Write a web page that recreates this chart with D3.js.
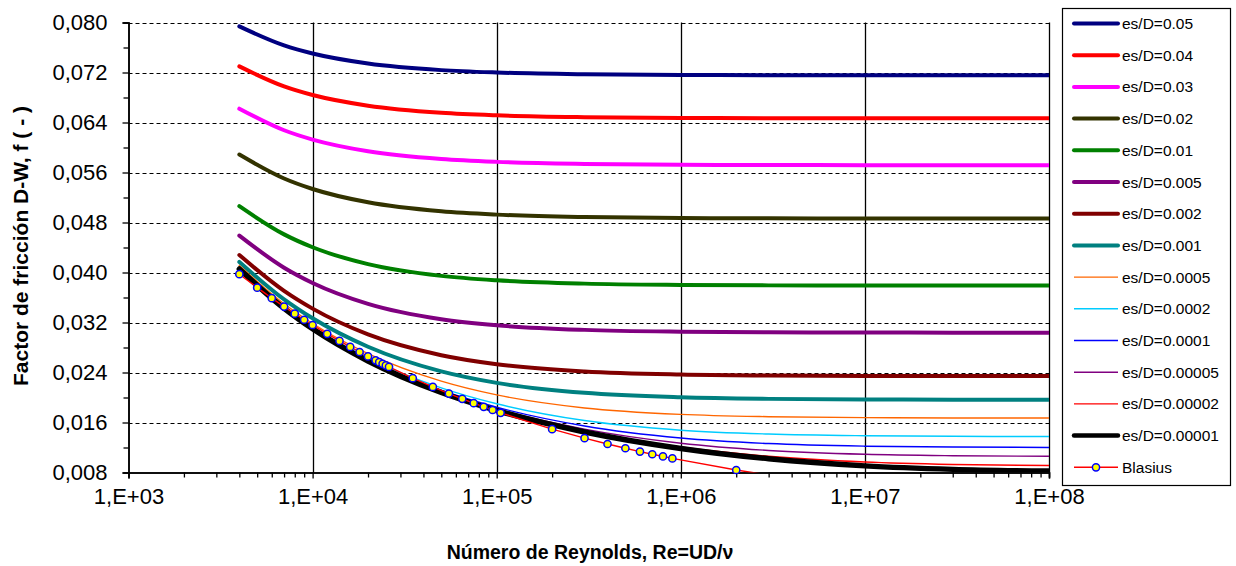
<!DOCTYPE html>
<html>
<head>
<meta charset="utf-8">
<script src="https://cdn.jsdelivr.net/npm/d3@7"></script>
<style>
    body { margin: 0; background: #fff; }
    svg { display: block; font-family: "Liberation Sans", Arial, sans-serif; }
</style>
</head>
<body>
<svg id="chart" width="1236" height="566"></svg>
<script>

// Reynolds numbers where the curves were read
var reynolds = [4000, 7000, 1e4, 2e4, 5e4, 1e5, 3e5, 1e6, 3e6, 1e7, 3e7, 1e8];

// friction factor, one array per relative roughness
var fRough005 = [0.07938, 0.07634, 0.07504, 0.07344, 0.07238, 0.07200, 0.07172, 0.07161, 0.07157, 0.07156, 0.07155, 0.07155];
var fRough004 = [0.07298, 0.06978, 0.06840, 0.06669, 0.06556, 0.06515, 0.06485, 0.06473, 0.06469, 0.06468, 0.06468, 0.06467];
var fRough003 = [0.06621, 0.06276, 0.06127, 0.05940, 0.05816, 0.05770, 0.05737, 0.05724, 0.05720, 0.05718, 0.05718, 0.05717];
var fRough002 = [0.05887, 0.05504, 0.05336, 0.05123, 0.04979, 0.04926, 0.04887, 0.04872, 0.04867, 0.04865, 0.04864, 0.04864];
var fRough001 = [0.05061, 0.04610, 0.04404, 0.04134, 0.03946, 0.03875, 0.03822, 0.03801, 0.03794, 0.03792, 0.03791, 0.03791];
var fRough0005 = [0.04591, 0.04077, 0.03833, 0.03499, 0.03253, 0.03156, 0.03082, 0.03052, 0.03043, 0.03039, 0.03038, 0.03037];
var fRough0002 = [0.04280, 0.03706, 0.03422, 0.03010, 0.02677, 0.02533, 0.02417, 0.02368, 0.02352, 0.02345, 0.02343, 0.02343];
var fRough0001 = [0.04169, 0.03570, 0.03267, 0.02812, 0.02418, 0.02234, 0.02075, 0.02003, 0.01978, 0.01969, 0.01965, 0.01964];
var fRough00005 = [0.04113, 0.03499, 0.03184, 0.02702, 0.02262, 0.02042, 0.01833, 0.01730, 0.01693, 0.01678, 0.01673, 0.01671];
var fRough00002 = [0.04078, 0.03455, 0.03132, 0.02631, 0.02155, 0.01900, 0.01631, 0.01477, 0.01415, 0.01388, 0.01379, 0.01375];
var fRough00001 = [0.04067, 0.03440, 0.03115, 0.02606, 0.02117, 0.01845, 0.01544, 0.01351, 0.01263, 0.01221, 0.01207, 0.01201];
var fRough000005 = [0.04061, 0.03433, 0.03106, 0.02594, 0.02097, 0.01816, 0.01494, 0.01269, 0.01153, 0.01092, 0.01069, 0.01059];
var fRough000002 = [0.04057, 0.03428, 0.03101, 0.02586, 0.02084, 0.01799, 0.01461, 0.01208, 0.01060, 0.00968, 0.00929, 0.00911];
var fRough000001 = [0.04056, 0.03427, 0.03099, 0.02584, 0.02080, 0.01792, 0.01449, 0.01185, 0.01020, 0.00906, 0.00850, 0.00822];

// Blasius points
var blasiusRe = [4000, 5000, 6000, 7000, 8000, 9000, 10000, 12000, 14000, 16000, 18000, 20000, 22000, 23000, 24000,
    25000, 26000, 35000, 45000, 55000, 65000, 75000, 85000, 95000, 105000, 200000, 300000, 400000, 500000,
    600000, 700000, 800000, 900000, 2000000, 3000000];
var blasiusF = [0.03973, 0.03758, 0.03590, 0.03455, 0.03341, 0.03244, 0.03160, 0.03019, 0.02905, 0.02810, 0.02728,
    0.02657, 0.02595, 0.02566, 0.02539, 0.02513, 0.02489, 0.02310, 0.02170, 0.02063, 0.01979, 0.01909, 0.01851,
    0.01800, 0.01755, 0.01494, 0.01350, 0.01256, 0.01188, 0.01135, 0.01092, 0.01057, 0.01026, 0.00840, 0.00759];

var seriesLabels = ["es/D=0.05", "es/D=0.04", "es/D=0.03", "es/D=0.02", "es/D=0.01", "es/D=0.005", "es/D=0.002",
    "es/D=0.001", "es/D=0.0005", "es/D=0.0002", "es/D=0.0001", "es/D=0.00005", "es/D=0.00002", "es/D=0.00001"];
var seriesValues = [fRough005, fRough004, fRough003, fRough002, fRough001, fRough0005, fRough0002,
    fRough0001, fRough00005, fRough00002, fRough00001, fRough000005, fRough000002, fRough000001];

var yTicks = [0.008, 0.016, 0.024, 0.032, 0.040, 0.048, 0.056, 0.064, 0.072, 0.080];
var yMinorTicks = [0.012, 0.020, 0.028, 0.036, 0.044, 0.052, 0.060, 0.068, 0.076];
var xTicks = [1e3, 1e4, 1e5, 1e6, 1e7, 1e8];

// styles
var colors = ["#000080", "#ff0000", "#ff00ff", "#333300", "#008000", "#800080", "#800000",
    "#008080", "#ff6600", "#00ccff", "#0000ff", "#800080", "#ff0000", "#000000"];
var widths = [4, 4, 4, 4, 4, 4, 4, 4, 1.4, 1.4, 1.4, 1.4, 1.4, 5.5];

function init() {
    var svg = d3.select("#chart");

    var left = 128.5, right = 1049, top = 22.5, bottom = 472.5;

    var x = d3.scaleLog().domain([1e3, 1e8]).range([left, right]);
    var y = d3.scaleLinear().domain([0.008, 0.080]).range([bottom, top]);

    svg.append("rect").attr("width", 1236).attr("height", 566).attr("fill", "#fff");

    svg.append("defs").append("clipPath").attr("id", "plotClip")
        .append("rect")
        .attr("x", left).attr("y", top)
        .attr("width", right - left).attr("height", bottom - top);

    //Horizontal dashed gridlines
    svg.append("g").selectAll("line")
        .data(yTicks.slice(1))
        .enter()
        .append("line")
        .attr("x1", left)
        .attr("x2", right)
        .attr("y1", function (d) { return Math.round(y(d)) + 0.5; })
        .attr("y2", function (d) { return Math.round(y(d)) + 0.5; })
        .attr("stroke", "#000")
        .attr("stroke-width", 1)
        .attr("stroke-dasharray", "4,3");

    //Vertical solid gridlines
    svg.append("g").selectAll("line")
        .data(xTicks.slice(1))
        .enter()
        .append("line")
        .attr("x1", function (d) { return Math.round(x(d)) + 0.5; })
        .attr("x2", function (d) { return Math.round(x(d)) + 0.5; })
        .attr("y1", top)
        .attr("y2", bottom)
        .attr("stroke", "#000")
        .attr("stroke-width", 1.3);

    // minor x ticks 2..9 in every decade
    var xMinor = [];
    xTicks.slice(0, -1).forEach(function (d) {
        for (var k = 2; k < 10; k++) xMinor.push(d * k);
    });

    var fmtX = function (d) { return "1,E+0" + Math.round(Math.log10(d)); };
    var fmtY = function (d) { return d3.format(".3f")(d).replace(".", ","); };

    svg.append("g")
        .attr("transform", "translate(0," + bottom + ")")
        .call(d3.axisBottom(x).tickValues(xTicks).tickFormat(fmtX).tickSize(6).tickPadding(10));
    svg.append("g")
        .attr("transform", "translate(0," + bottom + ")")
        .call(d3.axisBottom(x).tickValues(xMinor).tickFormat("").tickSize(5));

    svg.append("g")
        .attr("transform", "translate(" + left + ",0)")
        .call(d3.axisLeft(y).tickValues(yTicks).tickFormat(fmtY).tickSize(6).tickPadding(15));
    svg.append("g")
        .attr("transform", "translate(" + left + ",0)")
        .call(d3.axisLeft(y).tickValues(yMinorTicks).tickFormat("").tickSize(5));

    svg.selectAll(".domain").attr("stroke", "#000").attr("stroke-width", 1.5);
    svg.selectAll(".tick line").attr("stroke", "#000").attr("stroke-width", 1.3);
    svg.selectAll(".tick text")
        .attr("font-family", "Liberation Sans, Arial, sans-serif")
        .attr("font-size", 22)
        .attr("fill", "#000");

    //Curves
    var line = d3.line()
        .x(function (d) { return x(d[0]); })
        .y(function (d) { return y(d[1]); })
        .curve(d3.curveMonotoneX);

    var plot = svg.append("g").attr("clip-path", "url(#plotClip)");

    seriesValues.forEach(function (vals, i) {
        var pts = reynolds.map(function (re, j) { return [re, vals[j]]; });
        plot.append("path")
            .attr("d", line(pts))
            .attr("fill", "none")
            .attr("stroke", colors[i])
            .attr("stroke-width", widths[i])
            .attr("stroke-linecap", "round");
    });

    var blasiusPts = blasiusRe.map(function (re, j) { return [re, blasiusF[j]]; });
    plot.append("path")
        .attr("d", d3.line()
            .x(function (d) { return x(d[0]); })
            .y(function (d) { return y(d[1]); })(blasiusPts))
        .attr("fill", "none")
        .attr("stroke", "#ff0000")
        .attr("stroke-width", 1.4);

    svg.append("g").selectAll("circle")
        .data(blasiusPts.filter(function (d) { return d[1] >= 0.008; }))
        .enter()
        .append("circle")
        .attr("cx", function (d) { return x(d[0]); })
        .attr("cy", function (d) { return y(d[1]); })
        .attr("r", 3.6)
        .attr("fill", "#ffff00")
        .attr("stroke", "#0000ff")
        .attr("stroke-width", 1.5);

    //Axis titles
    svg.append("text")
        .attr("transform", "translate(28,246) rotate(-90)")
        .attr("text-anchor", "middle")
        .attr("font-size", 21)
        .attr("font-weight", "bold")
        .text("Factor de fricción D-W, f ( - )");

    svg.append("text")
        .attr("x", 590)
        .attr("y", 559)
        .attr("text-anchor", "middle")
        .attr("font-size", 19.5)
        .attr("font-weight", "bold")
        .text("Número de Reynolds,  Re=UD/ν");

    //Legend
    var legend = svg.append("g");
    legend.append("rect")
        .attr("x", 1062.5).attr("y", 8.5)
        .attr("width", 168).attr("height", 477)
        .attr("fill", "#fff")
        .attr("stroke", "#000")
        .attr("stroke-width", 1.2);

    var legendItems = legend.selectAll("g.item")
        .data(seriesLabels.concat(["Blasius"]))
        .enter()
        .append("g")
        .attr("class", "item")
        .attr("transform", function (d, i) { return "translate(0," + (23.5 + i * 31.7) + ")"; });

    legendItems.append("line")
        .attr("x1", 1074).attr("x2", 1118)
        .attr("stroke", function (d, i) { return i < colors.length ? colors[i] : "#ff0000"; })
        .attr("stroke-width", function (d, i) { return i < widths.length ? Math.min(widths[i], 4.5) : 1.4; })
        .attr("stroke-linecap", function (d, i) { return i < widths.length && widths[i] > 2 ? "round" : "butt"; });

    legendItems.filter(function (d) { return d === "Blasius"; })
        .append("circle")
        .attr("cx", 1096).attr("r", 3.6)
        .attr("fill", "#ffff00")
        .attr("stroke", "#0000ff")
        .attr("stroke-width", 1.5);

    legendItems.append("text")
        .attr("x", 1122)
        .attr("dy", "0.36em")
        .attr("font-size", 15.5)
        .text(function (d) { return d; });
}

init();
</script>
</body>
</html>
